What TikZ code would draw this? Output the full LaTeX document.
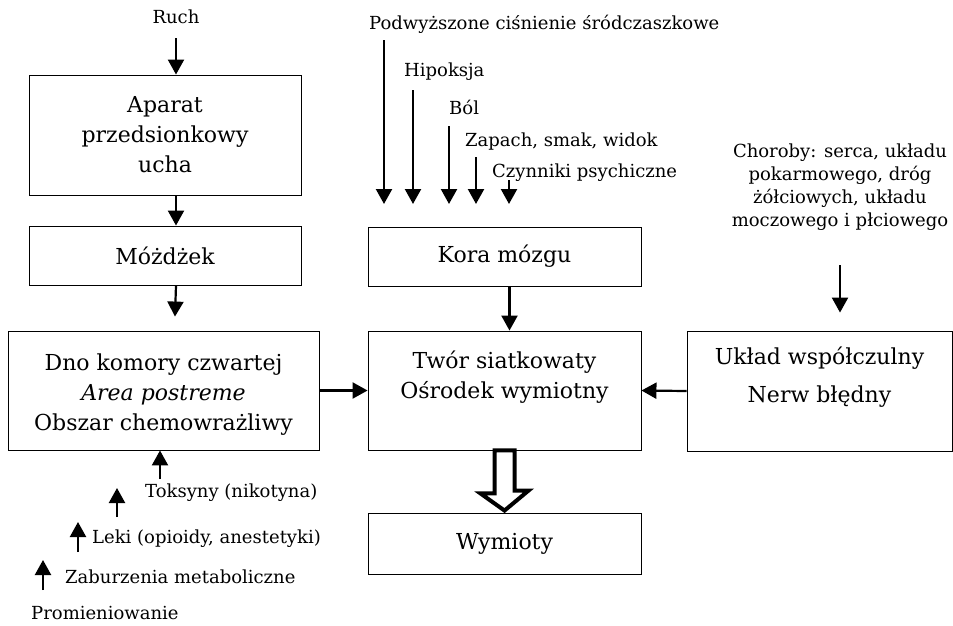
\documentclass[tikz,border=0pt]{standalone}
\usepackage{fontspec}
\setmainfont{DejaVu Serif}
\usetikzlibrary{arrows.meta,calc}
\newcommand{\smalltxt}{\fontsize{18}{23}\selectfont}
\newcommand{\boxtxt}{\fontsize{22}{30}\selectfont}
\newcommand{\firstline}{\rule{0pt}{24pt}}
\begin{document}
\begin{tikzpicture}[x=1pt,y=-1pt,
    box/.style={draw,line width=0.9pt,align=center,inner sep=0pt,
        font=\boxtxt},
    lbl/.style={inner sep=1pt,font=\smalltxt},
    arr/.style={line width=2.2pt,-{Triangle[length=15pt,width=16pt]}},
    hollow/.style={line width=4pt,line join=miter}]
    \useasboundingbox (0,0) rectangle (953,625);
    % boxes
    \node[box,minimum width=272pt,minimum height=120pt] (aparat)
        at (165,135) {Aparat\\przedsionkowy\\ucha};
    \node[box,minimum width=272pt,minimum height=59pt] (mozdzek)
        at (165,255.5) {Móżdżek};
    \node[box,minimum width=311pt,minimum height=119pt] (dno)
        at (163.5,390.5) {\firstline Dno komory czwartej\\\textit{Area postreme}\\Obszar chemowrażliwy};
    \node[box,minimum width=273pt,minimum height=59pt] (kora)
        at (504.5,256.5) {Kora mózgu};
    \node[box,minimum width=273pt,minimum height=119pt] (twor)
        at (504.5,390.5) {\firstline Twór siatkowaty\\Ośrodek wymiotny\\\strut};
    \node[box,minimum width=273pt,minimum height=61pt] (wymioty)
        at (504.5,543.5) {Wymioty};
    \node[box,minimum width=265pt,minimum height=120pt] (uklad)
        at (819.5,391) {\firstline Układ współczulny\\[8pt]Nerw błędny\\\strut};
    % labels
    \node[lbl] (ruch) at (176,17) {Ruch};
    \node[lbl,anchor=west] (podw) at (368,24) {Podwyższone ciśnienie śródczaszkowe};
    \node[lbl,anchor=west] (hipo) at (403,72) {Hipoksja};
    \node[lbl,anchor=west] (bol) at (448,107) {Ból};
    \node[lbl,anchor=west] (zapach) at (464,142) {Zapach, smak, widok};
    \node[lbl,anchor=west] (czyn) at (491,173) {Czynniki psychiczne};
    \node[lbl,align=center] (choroby) at (840,187)
        {Choroby: serca, układu\\pokarmowego, dróg\\żółciowych, układu\\moczowego i płciowego};
    \node[lbl,anchor=west] (toks) at (144,493) {Toksyny (nikotyna)};
    \node[lbl,anchor=west] (leki) at (91,539) {Leki (opioidy, anestetyki)};
    \node[lbl,anchor=west] (zab) at (64,577) {Zaburzenia metaboliczne};
    \node[lbl,anchor=west] (prom) at (30,613) {Promieniowanie};
    % left column
    \draw[arr,shorten <=13pt] (ruch.south -| aparat.north) ++(11,0)
        -- ([xshift=11pt]aparat.north);
    \draw[arr] ([xshift=11pt]aparat.south) -- ([xshift=11pt]mozdzek.north);
    \draw[arr,shorten >=14pt] ([xshift=11pt]mozdzek.south) -- ([xshift=11pt]dno.north);
    % middle column
    \foreach \i/\x/\y in {1/384/40,2/413/90,3/449/126,4/476/157,5/509/180}
    {
        \coordinate (s\i) at (\x,\y);
        \coordinate (e\i) at (\x,204);
        \draw[arr] (s\i) -- (e\i);
    }
    \draw[arr] ([xshift=5pt]kora.south) -- ([xshift=5pt]twor.north);
    \draw[arr] (dno.east) -- (twor.west);
    \draw[arr] (uklad.west) -- (twor.east);
    \draw[hollow] ([xshift=-10pt]twor.south) -- ++(0,43) -- ++(-14,0)
        -- ([yshift=2pt]wymioty.north) -- ++(24,-20) -- ++(-14,0)
        -- ([xshift=10pt]twor.south) -- cycle;
    % right column
    \coordinate (ch) at (840,265);
    \draw[arr,shorten >=18pt] (ch) -- (ch |- uklad.north);
    % bottom left
    \foreach \i/\x/\ya/\yb in {2/117/517/488,3/78/552/522,4/43/590/560}
    {
        \coordinate (u\i) at (\x,\ya);
        \coordinate (v\i) at (\x,\yb);
        \draw[arr] (u\i) -- (v\i);
    }
    \coordinate (u1) at (160,479);
    \draw[arr] (u1) -- (u1 |- dno.south);
\end{tikzpicture}
\end{document}
